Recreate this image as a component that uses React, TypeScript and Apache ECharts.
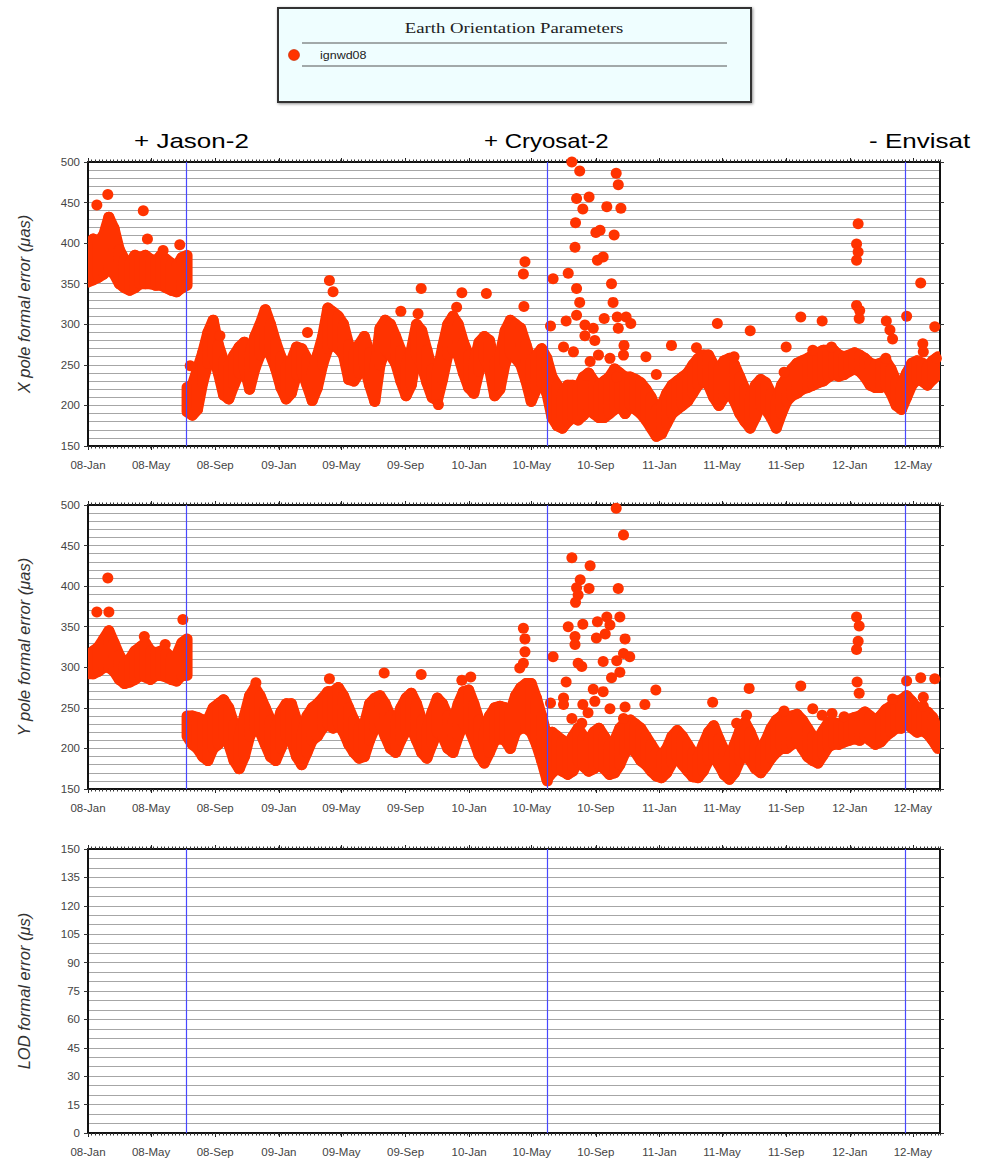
import React, { useEffect, useRef } from "react";
import * as echarts from "echarts";

const RED = "#ff3300";
const BLUE = "#4848ff";
const GRIDLINE = "#a6a6a6";
const DAY = 86400000;
const T0 = Date.UTC(2008, 0, 1);
const T_END = T0 + 1634 * DAY;
const STEP = 10; // band samples every 10 days

const MONTHS = ["Jan", "Feb", "Mar", "Apr", "May", "Jun", "Jul", "Aug", "Sep", "Oct", "Nov", "Dec"];
const xTickDates = [
  "2008-01-01", "2008-05-01", "2008-09-01", "2009-01-01", "2009-05-01", "2009-09-01", "2010-01-01",
  "2010-05-01", "2010-09-01", "2011-01-01", "2011-05-01", "2011-09-01", "2012-01-01", "2012-05-01",
];
const eventDates = ["2008-07-07", "2010-05-31", "2012-04-17"];
const eventLabels = ["+ Jason-2", "+ Cryosat-2", "- Envisat"];
const seriesName = "ignwd08";
const legendTitle = "Earth Orientation Parameters";
const panelNames = ["X pole formal error (μas)", "Y pole formal error (μas)", "LOD formal error (μs)"];

// X pole: band [low, high] before Jason-2 (day 0..190) and after (day 190..1630)
const xBandPreStart = 0;
const xBandPre = [
  [352, 380], [355, 405], [358, 402], [362, 410], [370, 432], [362, 418], [350, 392], [345, 380], [342, 375], [345, 385],
  [350, 382], [350, 385], [350, 380], [348, 378], [348, 385], [345, 380], [342, 375], [340, 372], [345, 382], [348, 385],
];
const xBandPostStart = 190;
const xBandPost = [
  // 190..280
  [192, 222], [188, 225], [195, 245], [228, 265], [252, 290], [262, 305], [240, 275], [213, 255], [208, 250], [225, 262],
  // 290..380
  [240, 272], [245, 278], [220, 262], [245, 285], [262, 300], [270, 318], [262, 300], [245, 278], [222, 260], [208, 248],
  // 390..480
  [215, 255], [238, 272], [242, 270], [225, 258], [206, 240], [222, 262], [250, 285], [270, 320], [275, 315], [270, 310],
  // 490..580
  [262, 300], [232, 275], [230, 265], [240, 275], [250, 285], [225, 265], [205, 245], [250, 295], [268, 305], [262, 300],
  // 590..680
  [252, 285], [230, 268], [212, 250], [225, 268], [262, 300], [250, 292], [228, 268], [210, 245], [206, 240], [232, 272],
  // 690..780
  [262, 300], [268, 310], [262, 300], [240, 278], [222, 262], [215, 252], [242, 278], [258, 285], [245, 280], [212, 252],
  // 790..880
  [220, 262], [252, 292], [265, 305], [258, 300], [250, 295], [230, 275], [205, 255], [220, 262], [228, 270], [215, 258],
  // 890..980
  [185, 235], [175, 225], [172, 215], [180, 225], [185, 225], [182, 222], [188, 235], [195, 240], [190, 230], [185, 225],
  // 990..1080
  [185, 230], [190, 235], [195, 245], [200, 240], [190, 235], [200, 235], [195, 232], [190, 228], [182, 220], [172, 210],
  // 1090..1180
  [162, 195], [165, 200], [178, 215], [190, 225], [195, 230], [200, 235], [205, 240], [215, 250], [225, 258], [230, 262],
  // 1190..1280
  [225, 262], [210, 250], [200, 245], [210, 255], [215, 258], [205, 250], [190, 235], [180, 220], [172, 210], [185, 225],
  // 1290..1380
  [200, 232], [195, 228], [185, 215], [172, 205], [190, 225], [205, 235], [212, 245], [215, 252], [220, 255], [222, 258],
  // 1390..1480
  [225, 262], [228, 265], [230, 268], [235, 268], [238, 268], [236, 262], [238, 260], [242, 262], [245, 265], [242, 262],
  // 1490..1580
  [235, 258], [225, 252], [222, 250], [222, 252], [225, 255], [215, 245], [200, 230], [195, 225], [210, 240], [225, 252],
  // 1590..1630
  [232, 255], [230, 252], [225, 248], [232, 255], [238, 260],
];
// isolated X points: [day since 2008-01-01, value]
const xOutliers = [
  [17, 447], [38, 460], [106, 440], [114, 405], [144, 391], [176, 398],
  [196, 249], [253, 286], [421, 290], [463, 354], [470, 340], [600, 316], [633, 313], [639, 344], [672, 201],
  [707, 321], [717, 339], [764, 338],
  [835, 362], [838, 377], [836, 322], [887, 298], [892, 356], [912, 272], [917, 304], [921, 363], [931, 266],
  [928, 500], [943, 489], [937, 455], [961, 457], [949, 442], [935, 425], [934, 395], [937, 344], [943, 327],
  [937, 311], [953, 299], [969, 295], [953, 286], [972, 280], [979, 262], [982, 416], [974, 413], [988, 383],
  [977, 379], [995, 445], [1013, 486], [1017, 472], [1022, 443], [1009, 410], [1004, 350], [1007, 327], [990, 307],
  [1015, 309], [1017, 295], [1032, 309], [1041, 301], [1028, 274], [1027, 262], [1001, 258], [963, 254], [956, 237],
  [1014, 235], [1070, 260], [1090, 238], [1119, 274], [1167, 271], [1207, 301], [1239, 260], [1270, 292],
  [1339, 272], [1335, 241], [1367, 309], [1390, 268], [1408, 304], [1426, 272],
  [1477, 424], [1474, 399], [1477, 389], [1474, 379], [1474, 323], [1480, 317], [1479, 307],
  [1531, 304], [1538, 293], [1543, 282], [1530, 258], [1570, 310], [1597, 351], [1601, 276], [1602, 266],
  [1624, 297], [1627, 258],
];

// Y pole
const yBandPreStart = 0;
const yBandPre = [
  [292, 315], [292, 320], [295, 325], [300, 335], [300, 345], [295, 330], [285, 315], [280, 305], [282, 310], [285, 320],
  [290, 325], [288, 330], [285, 320], [290, 318], [290, 320], [288, 318], [285, 312], [283, 315], [290, 330], [290, 335],
];
const yBandPostStart = 190;
const yBandPost = [
  // 190..280
  [215, 240], [205, 240], [200, 238], [190, 235], [185, 235], [200, 250], [205, 255], [215, 260], [205, 250], [185, 230],
  // 290..380
  [175, 215], [190, 240], [215, 265], [225, 275], [220, 265], [205, 250], [190, 235], [185, 225], [200, 245], [215, 255],
  // 390..480
  [210, 255], [190, 235], [180, 215], [195, 240], [210, 250], [215, 255], [225, 262], [230, 270], [225, 270], [230, 275],
  // 490..580
  [220, 265], [205, 250], [195, 235], [188, 225], [190, 230], [210, 255], [225, 262], [230, 265], [215, 255], [200, 240],
  // 590..680
  [195, 232], [210, 250], [222, 262], [225, 268], [210, 255], [195, 235], [188, 225], [205, 245], [220, 262], [215, 255],
  // 690..780
  [200, 240], [195, 232], [215, 255], [230, 270], [225, 272], [210, 255], [192, 235], [182, 220], [195, 240], [210, 250],
  // 790..880
  [212, 252], [210, 250], [200, 245], [220, 265], [225, 275], [225, 280], [220, 280], [205, 262], [185, 240], [162, 215],
  // 890..980
  [170, 220], [175, 215], [172, 210], [168, 205], [172, 215], [185, 225], [178, 215], [172, 210], [175, 220], [180, 225],
  // 990..1080
  [175, 215], [168, 205], [170, 210], [180, 225], [195, 232], [200, 235], [195, 230], [185, 225], [180, 215], [172, 205],
  // 1090..1180
  [166, 195], [164, 192], [170, 200], [182, 215], [190, 222], [180, 215], [172, 205], [165, 195], [164, 190], [172, 205],
  // 1190..1280
  [185, 220], [190, 228], [180, 212], [168, 198], [162, 190], [170, 205], [185, 222], [192, 232], [185, 220], [175, 205],
  // 1290..1380
  [170, 198], [178, 210], [188, 225], [195, 235], [200, 240], [200, 238], [205, 240], [210, 242], [200, 235], [190, 225],
  // 1390..1480
  [185, 215], [182, 212], [192, 222], [202, 232], [205, 232], [205, 230], [208, 232], [210, 236], [212, 238], [210, 240],
  // 1490..1580
  [215, 245], [210, 240], [205, 235], [208, 240], [215, 248], [220, 252], [225, 258], [225, 260], [232, 265], [225, 258],
  // 1590..1630
  [220, 250], [222, 248], [218, 245], [210, 238], [200, 222],
];
const yOutliers = [
  [17, 368], [38, 410], [40, 368], [108, 338], [148, 328], [182, 359],
  [322, 281], [463, 286], [568, 293], [639, 291], [717, 284], [734, 288],
  [828, 299], [835, 348], [838, 335], [838, 319], [835, 305], [881, 160], [892, 313], [887, 256], [912, 262],
  [917, 282], [928, 237], [928, 435], [963, 425], [944, 408], [937, 398], [961, 397], [940, 389], [935, 380],
  [921, 350], [949, 353], [934, 338], [934, 328], [940, 305], [947, 301], [977, 356], [995, 362], [1001, 352],
  [975, 336], [992, 341], [1020, 362], [1030, 335], [988, 307], [1014, 308], [1020, 294], [1004, 287], [1027, 317],
  [1039, 313], [1013, 496], [1027, 463], [1017, 397], [969, 273], [988, 270], [1001, 249], [1030, 251], [972, 258],
  [949, 254], [912, 254], [959, 244], [947, 231], [1027, 237], [1068, 254], [1089, 272], [1198, 257], [1244, 231],
  [1263, 241], [1268, 274], [1335, 246], [1367, 277], [1390, 249], [1408, 241], [1427, 243], [1450, 239],
  [1474, 362], [1479, 351], [1477, 332], [1474, 322], [1475, 282], [1479, 268],
  [1543, 261], [1570, 283], [1597, 287], [1624, 286], [1602, 263], [1602, 252],
];

// axes ranges per panel
const yMins = [150, 150, 0];
const yMaxs = [500, 500, 150];
const yIntervals = [50, 50, 15];
const yMinorSplits = [5, 5, 3];
const gridTops = [162, 505, 849];

const toTime = (d: string) => Date.parse(d + "T00:00:00Z");
const fmtTick = (v: number) => {
  const d = new Date(v);
  return String(d.getUTCFullYear()).slice(2) + "-" + MONTHS[d.getUTCMonth()];
};

function bandItems(startDay: number, band: number[][]) {
  const items: number[][] = [];
  for (let i = 0; i < band.length - 1; i++) {
    items.push([
      T0 + (startDay + i * STEP) * DAY, band[i][0], band[i][1],
      T0 + (startDay + (i + 1) * STEP) * DAY, band[i + 1][0], band[i + 1][1],
    ]);
  }
  return items;
}

function bandRender(_params: any, api: any) {
  const p0 = api.coord([api.value(0), api.value(1)]);
  const p1 = api.coord([api.value(0), api.value(2)]);
  const p2 = api.coord([api.value(3), api.value(5)]);
  const p3 = api.coord([api.value(3), api.value(4)]);
  return {
    type: "polygon",
    shape: { points: [p0, p1, p2, p3] },
    style: { fill: RED, stroke: RED, lineWidth: 11, lineJoin: "round" },
  };
}

const FONT = "'Liberation Sans', Arial, sans-serif";

export default function App() {
  const ref = useRef<HTMLDivElement>(null);
  useEffect(() => {
    if (!ref.current) return;
    const chart = echarts.init(ref.current, undefined, { renderer: "svg" });
    const tickTimes = xTickDates.map(toTime);

    const grids = gridTops.map((top) => ({ left: 88, top, width: 852, height: 284, containLabel: false }));

    const xAxes: any[] = [];
    const yAxes: any[] = [];
    gridTops.forEach((_, g) => {
      xAxes.push({
        type: "value", gridIndex: g, min: T0, max: T_END, position: "bottom",
        axisLine: { show: true, lineStyle: { color: "#111", width: 2 } },
        axisTick: { show: true, customValues: tickTimes, length: 4, lineStyle: { color: "#222" } },
        axisLabel: { customValues: tickTimes, formatter: fmtTick, margin: 13, fontSize: 11.5, color: "#444", fontFamily: FONT },
        splitLine: { show: false },
      });
      xAxes.push({
        type: "value", gridIndex: g, min: T0, max: T_END, interval: 7 * DAY, position: "bottom",
        axisLine: { show: false }, axisTick: { show: true, length: 2.5, lineStyle: { color: "#333" } },
        axisLabel: { show: false }, splitLine: { show: false },
      });
      xAxes.push({
        type: "value", gridIndex: g, min: T0, max: T_END, position: "top",
        axisLine: { show: true, lineStyle: { color: "#111", width: 2 } },
        axisTick: { show: true, customValues: tickTimes, length: 4, lineStyle: { color: "#222" } },
        axisLabel: { show: false }, splitLine: { show: false },
      });
      xAxes.push({
        type: "value", gridIndex: g, min: T0, max: T_END, interval: 7 * DAY, position: "top",
        axisLine: { show: false }, axisTick: { show: true, length: 2.5, lineStyle: { color: "#333" } },
        axisLabel: { show: false }, splitLine: { show: false },
      });
      yAxes.push({
        type: "value", gridIndex: g, min: yMins[g], max: yMaxs[g], interval: yIntervals[g], position: "left",
        axisLine: { show: true, lineStyle: { color: "#111", width: 2 } },
        axisTick: { show: true, length: 4, lineStyle: { color: "#333" } },
        axisLabel: { margin: 8, fontSize: 11.5, color: "#444", fontFamily: FONT },
        splitLine: { show: true, lineStyle: { color: GRIDLINE, width: 1 } },
        minorTick: { show: false, splitNumber: yMinorSplits[g] },
        minorSplitLine: { show: true, lineStyle: { color: GRIDLINE, width: 1 } },
        name: panelNames[g], nameLocation: "middle", nameGap: 56,
        nameTextStyle: { fontStyle: "italic", fontSize: 16.5, color: "#333", fontFamily: FONT },
      });
      yAxes.push({
        type: "value", gridIndex: g, min: yMins[g], max: yMaxs[g], interval: yIntervals[g], position: "right",
        axisLine: { show: true, lineStyle: { color: "#111", width: 2 } },
        axisTick: { show: true, length: 4, lineStyle: { color: "#333" } },
        axisLabel: { show: false }, splitLine: { show: false },
      });
    });

    const bandSeries = (g: number, start: number, band: number[][], key: string) => ({
      type: "custom", name: key, xAxisIndex: g * 4, yAxisIndex: g * 2, clip: true, silent: true,
      renderItem: bandRender, encode: { x: [0, 3], y: [1, 2, 4, 5] },
      data: bandItems(start, band), z: 2,
    });
    const outlierSeries = (g: number, pts: number[][]) => ({
      type: "scatter", name: seriesName, xAxisIndex: g * 4, yAxisIndex: g * 2, clip: true, silent: true,
      symbol: "circle", symbolSize: 11, itemStyle: { color: RED, opacity: 1 },
      data: pts.map(([d, v]) => [T0 + d * DAY, v]), z: 3,
    });
    const eventSeries = (g: number) => ({
      type: "scatter", name: "events" + g, xAxisIndex: g * 4, yAxisIndex: g * 2, data: [], z: 5, silent: true,
      markLine: {
        silent: true, symbol: ["none", "none"], label: { show: false },
        lineStyle: { color: BLUE, width: 1.2, type: "solid" },
        data: eventDates.map((d) => ({ xAxis: toTime(d) })),
      },
    });

    const series: any[] = [
      bandSeries(0, xBandPreStart, xBandPre, "x-pre"),
      bandSeries(0, xBandPostStart, xBandPost, "x-post"),
      outlierSeries(0, xOutliers),
      bandSeries(1, yBandPreStart, yBandPre, "y-pre"),
      bandSeries(1, yBandPostStart, yBandPost, "y-post"),
      outlierSeries(1, yOutliers),
      eventSeries(0), eventSeries(1), eventSeries(2),
    ];

    const annX = [134, 484, 869];
    const annScale = [1.3, 1.2, 1.3];
    const graphic: any[] = [
      {
        type: "rect", shape: { x: 278, y: 8, width: 473, height: 94 },
        style: { fill: "#effeff", stroke: "#333", lineWidth: 2, shadowBlur: 3, shadowColor: "rgba(0,0,0,0.45)", shadowOffsetX: 1, shadowOffsetY: 1 },
      },
      {
        type: "text", x: 514, y: 28, scaleX: 1.25,
        style: { text: legendTitle, font: "15px 'Liberation Serif', serif", fill: "#222", textAlign: "center", textVerticalAlign: "middle" },
      },
      { type: "line", shape: { x1: 302, y1: 43, x2: 727, y2: 43 }, style: { stroke: "#555", lineWidth: 1 } },
      { type: "line", shape: { x1: 302, y1: 66, x2: 727, y2: 66 }, style: { stroke: "#555", lineWidth: 1 } },
      { type: "circle", shape: { cx: 294, cy: 55, r: 5.5 }, style: { fill: RED, stroke: "#c02800", lineWidth: 0.6 } },
      {
        type: "text", x: 320, y: 55, scaleX: 1.25,
        style: { text: seriesName, font: "10px " + FONT, fill: "#222", textAlign: "left", textVerticalAlign: "middle" },
      },
      ...eventLabels.map((t, i) => ({
        type: "text", x: annX[i], y: 141, scaleX: annScale[i],
        style: { text: t, font: "20px " + FONT, fill: "#000", textAlign: "left", textVerticalAlign: "middle" },
      })),
    ];

    chart.setOption({
      animation: false,
      backgroundColor: "#fff",
      grid: grids,
      xAxis: xAxes,
      yAxis: yAxes,
      series,
      graphic,
    });
    return () => chart.dispose();
  }, []);
  return <div ref={ref} style={{ position: "absolute", left: 0, top: 0, width: 1003, height: 1161 }} />;
}
